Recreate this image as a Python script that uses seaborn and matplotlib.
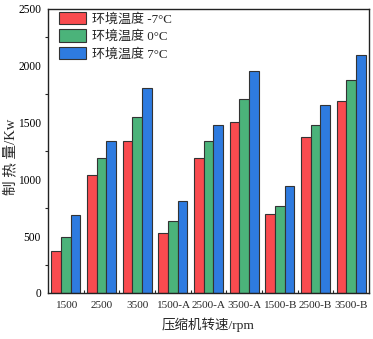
import numpy as np
import pandas as pd
import matplotlib
matplotlib.use("Agg")
import matplotlib.pyplot as plt
import seaborn as sns
from matplotlib.ticker import MultipleLocator, FixedLocator

categories = ["1500", "2500", "3500", "1500-A", "2500-A", "3500-A", "1500-B", "2500-B", "3500-B"]
series_names = ["环境温度 -7°C", "环境温度 0°C", "环境温度 7°C"]
vals_m7 = [370, 1041, 1338, 525, 1191, 1502, 692, 1373, 1687]
vals_0 = [496, 1186, 1552, 631, 1335, 1708, 768, 1479, 1873]
vals_7 = [690, 1338, 1805, 807, 1476, 1951, 945, 1655, 2098]
colors = ["#F94B4F", "#4BB37A", "#2E7BE0"]

rows = []
for name, vals in zip(series_names, [vals_m7, vals_0, vals_7]):
    for c, v in zip(categories, vals):
        rows.append({"cat": c, "series": name, "value": v})
df = pd.DataFrame(rows)

sns.set_theme(style="white")
plt.rcParams['font.family'] = ['Liberation Serif', 'Noto Sans CJK SC', 'DejaVu Sans']
plt.rcParams['axes.unicode_minus'] = False

fig = plt.figure(figsize=(3.73, 3.39), dpi=100)
ax = fig.add_axes([0.1287, 0.1357, 0.8603, 0.8378])

sns.barplot(data=df, x="cat", y="value", hue="series", order=categories,
            hue_order=series_names, palette=colors, width=0.81, gap=0,
            edgecolor="#333333", linewidth=0.8, saturation=1, ax=ax, errorbar=None)

ax.set_xlim(-0.5, 8.5)
ax.set_ylim(0, 2500)
ax.yaxis.set_major_locator(MultipleLocator(500))
ax.yaxis.set_minor_locator(MultipleLocator(250))
ax.xaxis.set_minor_locator(FixedLocator(np.arange(0.5, 8.5, 1)))
ax.tick_params(axis='y', which='major', direction='out', length=3.5, width=0.8, labelsize=8.3, pad=1.5, colors='black')
ax.tick_params(axis='y', which='minor', direction='out', length=2.2, width=0.8, left=True)
ax.tick_params(axis='x', which='major', direction='in', length=3.5, width=0.8, labelsize=8.1, pad=5.5, bottom=True)
ax.tick_params(axis='x', which='minor', direction='in', length=2.2, width=0.8, bottom=True)
for s in ax.spines.values():
    s.set_color("#222222")
    s.set_linewidth(1.0)

ax.set_xlabel("压缩机转速/rpm", fontsize=9.7, labelpad=6)
ax.set_ylabel("制 热 量/Kw", fontsize=10.5)
ax.yaxis.set_label_coords(-0.097, 0.48)

handles, labels = ax.get_legend_handles_labels()
ax.legend(handles, labels, loc="upper left", bbox_to_anchor=(0.034, 0.99),
          frameon=False, fontsize=9.4, borderaxespad=0, borderpad=0,
          handlelength=2.07, handleheight=1.08, labelspacing=0.3, handletextpad=0.5)

fig.savefig("out.png", dpi=100)
